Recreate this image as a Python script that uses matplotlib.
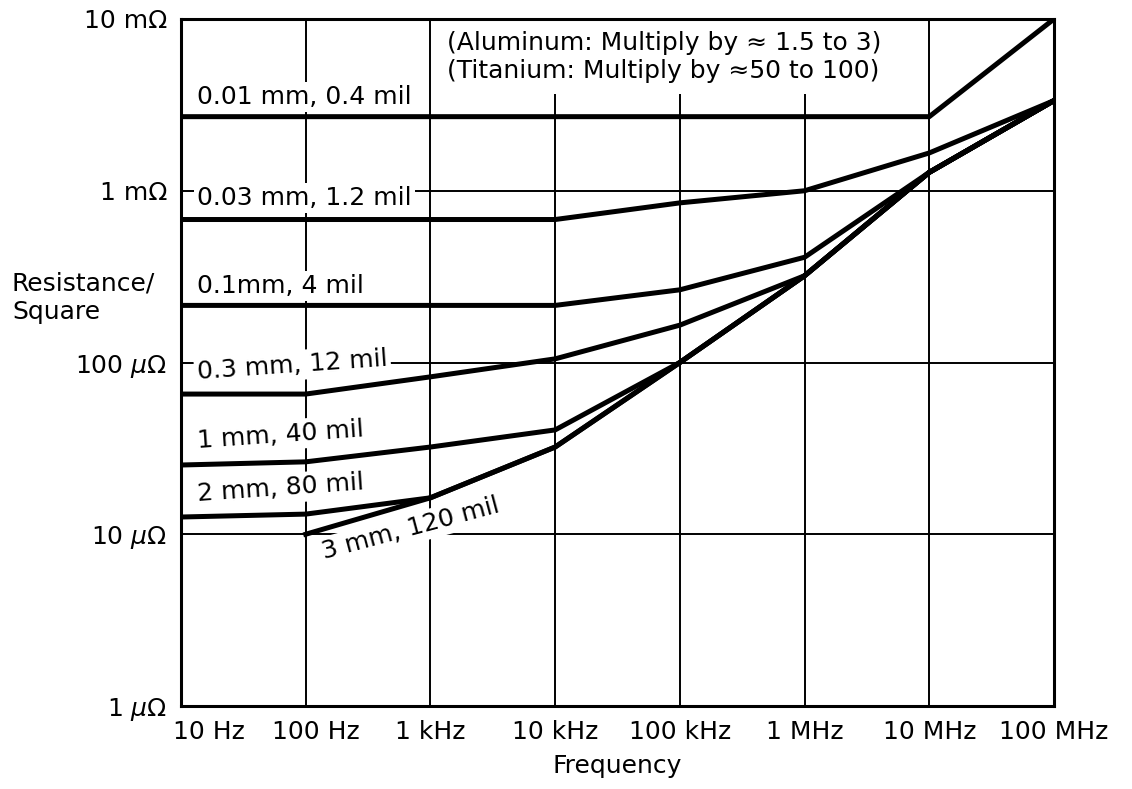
import numpy as np
import matplotlib
matplotlib.use('Agg')
import matplotlib.pyplot as plt
import matplotlib.transforms as mtransforms
from matplotlib.ticker import NullLocator

# frequency points (Hz)
freq = [10, 100, 1e3, 1e4, 1e5, 1e6, 1e7, 1e8]

# resistance per square (ohm) for each thickness
r_001mm = [2.7e-3, 2.7e-3, 2.7e-3, 2.7e-3, 2.7e-3, 2.7e-3, 2.7e-3, 1.0e-2]
r_003mm = [6.8e-4, 6.8e-4, 6.8e-4, 6.8e-4, 8.5e-4, 1.0e-3, 1.66e-3, 3.35e-3]
r_01mm = [2.15e-4, 2.15e-4, 2.15e-4, 2.15e-4, 2.65e-4, 4.1e-4, 1.28e-3, 3.35e-3]
r_03mm = [6.55e-5, 6.55e-5, 8.25e-5, 1.05e-4, 1.65e-4, 3.2e-4, 1.28e-3, 3.35e-3]
r_1mm = [2.53e-5, 2.64e-5, 3.22e-5, 4.05e-5, 1.0e-4, 3.2e-4, 1.28e-3, 3.35e-3]
r_2mm = [1.26e-5, 1.31e-5, 1.63e-5, 3.22e-5, 1.0e-4, 3.2e-4, 1.28e-3, 3.35e-3]
r_3mm = [np.nan, 1.0e-5, 1.63e-5, 3.22e-5, 1.0e-4, 3.2e-4, 1.28e-3, 3.35e-3]

series = [r_001mm, r_003mm, r_01mm, r_03mm, r_1mm, r_2mm, r_3mm]

x_ticks = [10, 100, 1e3, 1e4, 1e5, 1e6, 1e7, 1e8]
x_labels = ['10 Hz', '100 Hz', '1 kHz', '10 kHz', '100 kHz', '1 MHz', '10 MHz', '100 MHz']
y_ticks = [1e-6, 1e-5, 1e-4, 1e-3, 1e-2]
y_labels = ['1 $\\mu$Ω', '10 $\\mu$Ω', '100 $\\mu$Ω', '1 mΩ', '10 mΩ']

# curve labels: text, (freq, resistance) anchor, rotation
curve_labels = [
    ('0.01 mm, 0.4 mil', 13.5, 3.5e-3, 0),
    ('0.03 mm, 1.2 mil', 13.5, 9.1e-4, 0),
    ('0.1mm, 4 mil', 13.5, 2.8e-4, 0),
    ('0.3 mm, 12 mil', 13.5, 8.8e-5, 4),
    ('1 mm, 40 mil', 13.5, 3.5e-5, 4),
    ('2 mm, 80 mil', 13.5, 1.71e-5, 4),
    ('3 mm, 120 mil', 135, 7.8e-6, 15),
]

plt.rcParams['font.family'] = ['DejaVu Sans']
fig = plt.figure(figsize=(11.32, 7.89), dpi=100)
ax = fig.add_axes([181 / 1132, 1 - 706 / 789, (1054 - 181) / 1132, (706 - 19) / 789])
ax.set_xscale('log')
ax.set_yscale('log')
ax.set_xlim(10, 1e8)
ax.set_ylim(1e-6, 1e-2)

for r in series:
    ax.plot(freq, r, color='black', lw=3.6, solid_joinstyle='round', zorder=5)

# grid
for f in x_ticks[1:-1]:
    ax.axvline(f, color='black', lw=1.4, zorder=1)
for v in y_ticks[1:-1]:
    ax.axhline(v, color='black', lw=1.4, zorder=1)

for txt, fx, ry, rot in curve_labels:
    ax.text(fx, ry, txt, fontsize=18, ha='left', va='center', rotation=rot,
            rotation_mode='anchor', zorder=3,
            bbox=dict(boxstyle='square,pad=0.12', fc='white', ec='none'))

ax.text(1360, 6.0e-3, '(Aluminum: Multiply by ≈ 1.5 to 3)\n(Titanium: Multiply by ≈50 to 100)',
        fontsize=18, ha='left', va='center', linespacing=1.2, zorder=3,
        bbox=dict(boxstyle='square,pad=0.45', fc='white', ec='none'))

ax.set_xticks(x_ticks)
ax.set_xticklabels(x_labels, fontsize=18)
ax.set_yticks(y_ticks)
ax.set_yticklabels(y_labels, fontsize=18)
ax.xaxis.set_minor_locator(NullLocator())
ax.yaxis.set_minor_locator(NullLocator())
ax.tick_params(length=0, pad=10)

xl = ax.get_xticklabels()
xl[0].set_horizontalalignment('left')
xl[0].set_transform(xl[0].get_transform() + mtransforms.ScaledTranslation(-8 / 100, 0, fig.dpi_scale_trans))
xl[1].set_transform(xl[1].get_transform() + mtransforms.ScaledTranslation(10 / 100, 0, fig.dpi_scale_trans))

for s in ax.spines.values():
    s.set_linewidth(2.2)
    s.set_zorder(6)

ax.set_xlabel('Frequency', fontsize=18, labelpad=7)
fig.text(12 / 1132, 1 - 298 / 789, 'Resistance/\nSquare', fontsize=18, ha='left', va='center',
         linespacing=1.25)

fig.savefig('out.png', dpi=100)
